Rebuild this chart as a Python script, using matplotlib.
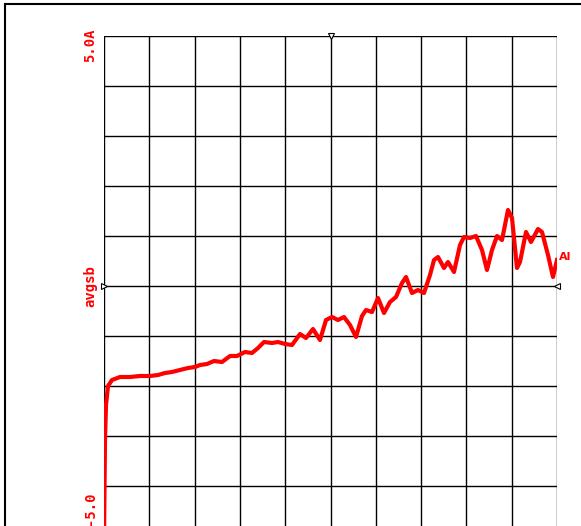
import matplotlib
matplotlib.use("Agg")
import matplotlib.pyplot as plt
import matplotlib.patches as patches
import numpy as np

# pixel-read data converted to values: x in 0..100, y in -5..5
px = [104, 105, 106, 108, 112, 120, 130, 140, 150, 158, 165, 172, 180, 188, 195, 200, 207, 214, 222, 230,
      237, 245, 252, 258, 264, 272, 278, 285, 292, 300, 306, 313, 320, 326, 332, 338, 344, 350, 356, 362,
      366, 372, 378, 384, 390, 396, 402, 406, 412, 418, 424, 430, 434, 438, 444, 448, 454, 460, 464, 470,
      476, 482, 487, 492, 497, 502, 508, 512, 517, 520, 526, 531, 538, 542, 548, 553, 557]
py = [540, 440, 405, 386, 380, 377, 377, 376, 376, 375, 373, 372, 370, 368, 367, 365, 364, 361, 362, 356,
      356, 352, 353, 348, 342, 343, 342, 344, 345, 334, 338, 329, 340, 320, 317, 320, 317, 325, 337, 316,
      310, 312, 298, 313, 302, 297, 283, 277, 293, 290, 293, 275, 260, 257, 268, 262, 272, 245, 237, 238,
      236, 250, 270, 250, 236, 240, 210, 218, 268, 262, 232, 242, 229, 232, 255, 277, 260]
x_vals = [(p - 104) / 45.3 * 10 for p in px]
y_vals = [(286 - p) / 50.0 for p in py]

W, H = 581, 526
fig = plt.figure(figsize=(W / 100, H / 100), dpi=100)
ax = fig.add_axes([104 / W, (H - 536) / H, 453 / W, 500 / H])
ax.set_xlim(0, 100)
ax.set_ylim(-5, 5)
for v in np.arange(0, 101, 10):
    ax.axvline(v, color='black', lw=1.0, zorder=1)
for v in np.arange(-5, 5.01, 1):
    ax.axhline(v, color='black', lw=1.0, zorder=1)
ax.set_xticks([])
ax.set_yticks([])
for s in ax.spines.values():
    s.set_visible(False)

ax.plot(x_vals, y_vals, color='red', lw=3.0, solid_joinstyle='round', zorder=3, clip_on=True)

# small markers at axis centres
ax.plot([50], [5], marker='v', ms=5, mfc='white', mec='black', mew=0.8, clip_on=False, zorder=4)
ax.plot([0], [0], marker='>', ms=5, mfc='white', mec='black', mew=0.8, clip_on=False, zorder=4)
ax.plot([100], [0], marker='<', ms=5, mfc='white', mec='black', mew=0.8, clip_on=False, zorder=4)

# y labels
def fy(p):
    return (H - p) / H
fig.text(90 / W, fy(45), "5.0A", rotation=90, color='red', fontsize=10, fontweight='bold',
         family='DejaVu Sans Mono', ha='center', va='center')
fig.text(90 / W, fy(286), "avgsb", rotation=90, color='red', fontsize=10, fontweight='bold',
         family='DejaVu Sans Mono', ha='center', va='center')
fig.text(90 / W, fy(525), "-5.0", rotation=90, color='red', fontsize=10, fontweight='bold',
         family='DejaVu Sans Mono', ha='center', va='bottom')

# end label
fig.text(559 / W, fy(257), "Al", color='red', fontsize=8, fontweight='bold', ha='left', va='center')

# outer frame
fig.patches.append(patches.Rectangle((5 / W, -0.2), 2, fy(4) + 0.2, transform=fig.transFigure,
                                     fill=False, ec='black', lw=1.5))

fig.savefig("out.png", dpi=100)
